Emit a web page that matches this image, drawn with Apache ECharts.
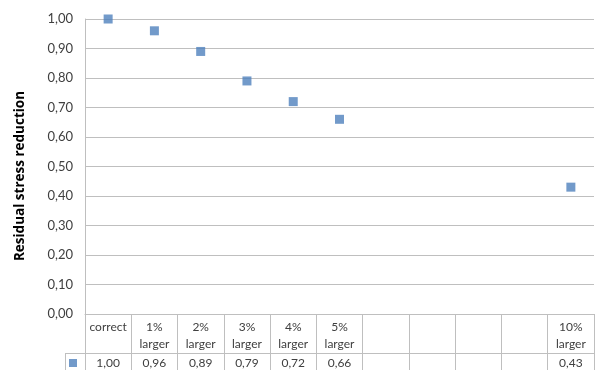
<!DOCTYPE html>
<html>
<head>
<meta charset="utf-8">
<script src="https://cdn.jsdelivr.net/npm/echarts@6/dist/echarts.min.js"></script>
<style>
  html, body { margin: 0; padding: 0; background: #fff; }
  #chart { width: 597px; height: 370px; }
</style>
</head>
<body>
<div id="chart"></div>
<script>
// Categories of the model variants (blank columns have no result)
const categories = ['correct', '1%\nlarger', '2%\nlarger', '3%\nlarger', '4%\nlarger', '5%\nlarger', '', '', '', '', '10%\nlarger'];
// Residual stress reduction per variant
const reduction = [1.00, 0.96, 0.89, 0.79, 0.72, 0.66, null, null, null, null, 0.43];
// Y-axis tick settings
const yMin = 0, yMax = 1, yStep = 0.1;
const yTitle = 'Residual stress reduction';

const fmt = v => (v == null ? '' : v.toFixed(2).replace('.', ','));
const gridColor = '#bfbfbf';
const textColor = '#404040';
const font = 'Lato, "Open Sans", sans-serif';

const chart = echarts.init(document.getElementById('chart'));
chart.setOption({
  animation: false,
  grid: { left: 85, right: 3, top: 19, bottom: 56, containLabel: false },
  legend: {
    left: 64, top: 354,
    itemWidth: 8, itemHeight: 8,
    formatter: () => '',
    data: [{ name: yTitle, icon: 'rect' }],
    selectedMode: false
  },
  xAxis: [
    {
      type: 'category',
      data: categories,
      boundaryGap: true,
      axisLine: { show: true, lineStyle: { color: gridColor } },
      axisTick: { show: true, length: 56, lineStyle: { color: gridColor } },
      axisLabel: {
        interval: 0, margin: 5, color: textColor, fontFamily: font,
        fontSize: 12, lineHeight: 17
      }
    },
    {
      type: 'category',
      data: categories,
      position: 'bottom',
      offset: 39,
      boundaryGap: true,
      axisLine: { show: true, lineStyle: { color: gridColor } },
      axisTick: { show: false },
      axisLabel: {
        interval: 0, margin: 4, color: textColor, fontFamily: font, fontSize: 12,
        formatter: (v, i) => fmt(reduction[i])
      }
    }
  ],
  yAxis: {
    type: 'value',
    min: yMin, max: yMax, interval: yStep,
    axisLine: { show: true, lineStyle: { color: gridColor } },
    axisTick: { show: false },
    splitLine: { show: true, lineStyle: { color: gridColor } },
    axisLabel: { color: textColor, fontFamily: font, fontSize: 13, margin: 12, formatter: v => fmt(v) }
  },
  graphic: [
    {
      type: 'text', x: 20, y: 176, rotation: Math.PI / 2,
      style: {
        text: yTitle, fill: '#000', fontWeight: 'bold', fontSize: 13.5,
        fontFamily: '"Open Sans", sans-serif', align: 'center', verticalAlign: 'middle'
      }
    },
    { type: 'line', shape: { x1: 65, y1: 353.5, x2: 85, y2: 353.5 }, style: { stroke: gridColor, lineWidth: 1 } },
    { type: 'line', shape: { x1: 65.5, y1: 353, x2: 65.5, y2: 370 }, style: { stroke: gridColor, lineWidth: 1 } }
  ],
  series: [{
    name: yTitle,
    type: 'scatter',
    symbol: 'rect',
    symbolSize: 9,
    itemStyle: { color: '#4f81bd' },
    data: reduction
  }]
});
</script>
</body>
</html>
